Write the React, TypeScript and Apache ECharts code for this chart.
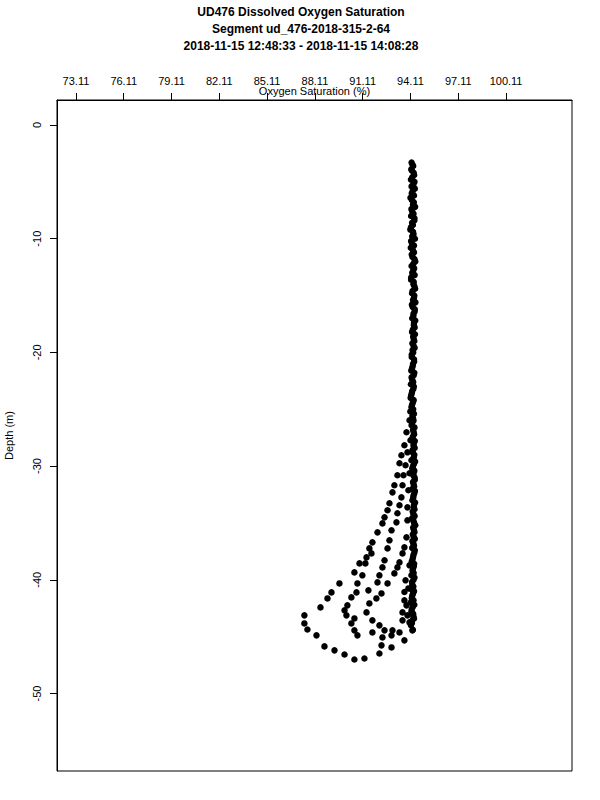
import React, { useEffect, useRef } from "react";
import * as echarts from "echarts";

const titleLines = [
  "UD476 Dissolved Oxygen Saturation",
  "Segment ud_476-2018-315-2-64",
  "2018-11-15 12:48:33 - 2018-11-15 14:08:28",
];

const xTicks = [73.11, 76.11, 79.11, 82.11, 85.11, 88.11, 91.11, 94.11, 97.11, 100.11];
const yTicks = [0, -10, -20, -30, -40, -50];

// main near-vertical column (first cast)
const columnDepth = [
  -3.3, -3.6, -4.0, -4.4, -4.8, -5.2, -5.6, -6.0, -6.4, -6.8,
  -7.2, -7.6, -8.0, -8.4, -8.8, -9.2, -9.6, -10.0, -10.4, -10.8,
  -11.2, -11.6, -12.0, -12.4, -12.8, -13.2, -13.6, -14.0, -14.4, -14.8,
  -15.2, -15.6, -16.0, -16.4, -16.8, -17.2, -17.6, -18.0, -18.4, -18.8,
  -19.2, -19.6, -20.0, -20.4, -20.8, -21.2, -21.6, -22.0, -22.4, -22.8,
  -23.2, -23.6, -24.0, -24.4, -24.8, -25.2, -25.6, -26.0, -26.4, -26.8,
  -27.2, -27.6, -28.0, -28.4, -28.8, -29.2, -29.6, -30.0, -30.4, -30.8,
  -31.2, -31.6, -32.0, -32.4, -32.8, -33.2, -33.6, -34.0, -34.4, -34.8,
  -35.2, -35.6, -36.0, -36.4, -36.8, -37.2, -37.6, -38.0, -38.4, -38.8,
  -39.2, -39.6, -40.0, -40.4, -40.8, -41.2, -41.6, -42.0, -42.4, -42.8,
  -43.2, -43.6, -44.0, -44.4,
];
const columnO2 = [
  94.18, 94.28, 94.20, 94.34, 94.14, 94.29, 94.38, 94.19, 94.11, 94.32,
  94.40, 94.22, 94.15, 94.35, 94.26, 94.10, 94.30, 94.39, 94.20, 94.13,
  94.33, 94.24, 94.41, 94.18, 94.28, 94.37, 94.15, 94.30, 94.40, 94.21,
  94.33, 94.42, 94.25, 94.37, 94.29, 94.41, 94.32, 94.26, 94.39, 94.31,
  94.23, 94.37, 94.28, 94.19, 94.34, 94.25, 94.16, 94.31, 94.22, 94.14,
  94.29, 94.19, 94.12, 94.26, 94.17, 94.10, 94.23, 94.30, 94.18, 94.27,
  94.34, 94.23, 94.31, 94.37, 94.26, 94.32, 94.40, 94.27, 94.35, 94.29,
  94.38, 94.31, 94.24, 94.35, 94.28, 94.40, 94.31, 94.25, 94.37, 94.29,
  94.41, 94.32, 94.26, 94.38, 94.29, 94.22, 94.35, 94.27, 94.19, 94.32,
  94.24, 94.17, 94.30, 94.22, 94.14, 94.27, 94.19, 94.12, 94.25, 94.17,
  94.29, 94.21, 94.14, 94.26,
];

// second cast overlapping the column
const column2Depth = [
  -3.5, -3.9, -4.2, -4.6, -5.0, -5.4, -5.8, -6.2, -6.6, -7.0,
  -7.4, -7.8, -8.2, -8.6, -9.0, -9.4, -9.8, -10.2, -10.6, -11.0,
  -11.4, -11.8, -12.2, -12.6, -13.0, -13.4, -13.8, -14.2, -14.6, -15.0,
  -15.4, -15.8, -16.2, -16.6, -17.0, -17.4, -17.8, -18.2, -18.6, -19.0,
  -19.4, -19.8, -20.2, -20.6, -21.0, -21.4, -21.8, -22.2, -22.6, -23.0,
  -23.4, -23.8, -24.2, -24.6, -25.0, -25.4, -25.8, -26.2, -26.6, -27.0,
  -27.4, -27.8, -28.2, -28.6, -29.0, -29.4, -29.8, -30.2, -30.6, -31.0,
  -31.4, -31.8, -32.2, -32.6, -33.0, -33.4, -33.8, -34.2, -34.6, -35.0,
  -35.4, -35.8, -36.2, -36.6, -37.0, -37.4, -37.8, -38.2, -38.6, -39.0,
  -39.4, -39.8, -40.2, -40.6, -41.0, -41.4, -41.8, -42.2, -42.6, -43.0,
  -43.4, -43.8,
];
const column2O2 = [
  94.24, 94.16, 94.31, 94.22, 94.36, 94.18, 94.25, 94.33, 94.20, 94.27,
  94.17, 94.30, 94.36, 94.21, 94.14, 94.27, 94.22, 94.15, 94.33, 94.26,
  94.19, 94.36, 94.29, 94.34, 94.22, 94.16, 94.31, 94.36, 94.24, 94.35,
  94.27, 94.20, 94.38, 94.30, 94.22, 94.33, 94.37, 94.21, 94.28, 94.35,
  94.30, 94.24, 94.19, 94.33, 94.27, 94.21, 94.35, 94.18, 94.28, 94.32,
  94.22, 94.15, 94.31, 94.21, 94.28, 94.33, 94.27, 94.21, 94.36, 94.31,
  94.26, 94.38, 94.30, 94.24, 94.35, 94.28, 94.33, 94.22, 94.30, 94.37,
  94.27, 94.34, 94.39, 94.30, 94.23, 94.33, 94.36, 94.29, 94.21, 94.34,
  94.28, 94.36, 94.31, 94.23, 94.33, 94.38, 94.30, 94.24, 94.34, 94.27,
  94.31, 94.36, 94.21, 94.29, 94.33, 94.22, 94.30, 94.35, 94.19, 94.28,
  94.33, 94.20,
];

// outer (leftmost) trace with the deep loop
const outerO2 = [
  94.05, 93.86, 93.73, 93.54, 93.42, 93.29, 93.10, 92.98, 92.79, 92.67,
  92.48, 92.35, 92.04, 91.72, 91.53, 91.35, 90.91, 90.59, 89.65, 89.15,
  88.90, 88.46, 87.45, 87.45, 87.64, 88.21, 88.71, 89.34, 89.97, 90.59, 91.22,
];
const outerDepth = [
  -25.97, -27.02, -28.17, -29.05, -29.75, -30.81, -31.69, -32.31, -33.27, -33.89,
  -34.51, -35.04, -35.83, -36.71, -37.24, -38.03, -38.56, -39.35, -40.32, -41.11,
  -41.64, -42.43, -43.13, -43.84, -44.37, -44.89, -45.86, -46.21, -46.57, -47.01, -46.92,
];

// second trace
const middleO2 = [
  94.11, 93.92, 93.80, 93.67, 93.61, 93.54, 93.42, 93.29, 93.23, 92.92,
  92.79, 92.67, 92.48, 92.35, 92.16, 92.04, 91.47, 91.97, 91.53, 91.35,
  91.72, 92.16, 91.72,
];
const middleDepth = [
  -27.73, -28.79, -29.93, -30.81, -31.69, -32.75, -33.45, -34.15, -34.95, -35.65,
  -36.53, -37.24, -38.29, -38.91, -39.61, -40.23, -40.93, -41.64, -42.08, -42.87,
  -43.57, -44.01, -44.63,
];

// inner-left trace
const innerO2 = [
  91.66, 91.28, 91.09, 90.78, 90.72, 90.40, 90.15, 89.97, 90.09, 90.59,
  90.40, 90.59, 90.78,
];
const innerDepth = [
  -37.68, -38.56, -39.61, -40.32, -41.11, -41.55, -42.25, -42.69, -43.13, -43.40,
  -43.84, -44.45, -44.89,
];

// third trace
const thirdO2 = [
  94.17, 94.05, 93.98, 93.92, 93.92, 93.86, 93.73, 93.61, 93.42, 93.29,
  93.10, 92.67, 92.29, 92.48, 92.98, 93.42, 92.92, 92.35, 92.92, 92.29, 92.16,
];
const thirdDepth = [
  -29.49, -30.63, -32.13, -33.63, -34.77, -36.27, -37.15, -37.68, -38.47, -38.91,
  -39.44, -40.32, -41.20, -44.45, -44.45, -44.63, -44.89, -45.07, -45.95, -45.77, -46.48,
];

// dense cluster near the bottom of the column
const clusterO2 = [94.05, 93.80, 93.98, 93.73, 93.73, 93.86, 93.61, 93.92, 93.61, 94.05, 94.23, 93.73];
const clusterDepth = [-38.73, -40.05, -40.76, -41.08, -41.81, -42.25, -42.87, -43.13, -43.57, -43.75, -44.45, -45.33];

const zip = (a: number[], b: number[]) => a.map((v, i) => [v, b[i]]);

export default function App() {
  const ref = useRef<HTMLDivElement>(null);
  useEffect(() => {
    if (!ref.current) return;
    const chart = echarts.init(ref.current, null, { renderer: "svg" });
    const font = "Liberation Sans";
    const data = [
      ...zip(columnO2, columnDepth),
      ...zip(column2O2, column2Depth),
      ...zip(outerO2, outerDepth),
      ...zip(middleO2, middleDepth),
      ...zip(innerO2, innerDepth),
      ...zip(thirdO2, thirdDepth),
      ...zip(clusterO2, clusterDepth),
    ];
    chart.setOption({
      animation: false,
      backgroundColor: "#ffffff",
      textStyle: { fontFamily: font, color: "#000" },
      graphic: titleLines.map((t, i) => ({
        type: "text",
        x: 301,
        y: 12 + i * 17,
        style: {
          text: t,
          font: `bold 12px "${font}"`,
          fill: "#000",
          textAlign: "center",
          textVerticalAlign: "middle",
        },
      })),
      grid: {
        left: 57,
        right: 28,
        top: 100,
        bottom: 29,
        show: true,
        borderColor: "#000",
        borderWidth: 1,
        backgroundColor: "transparent",
        containLabel: false,
        outerBoundsMode: "none",
      },
      xAxis: {
        type: "value",
        position: "top",
        min: 71.92,
        max: 104.25,
        name: "Oxygen Saturation (%)",
        nameLocation: "middle",
        nameGap: 9,
        nameMoveOverlap: false,
        nameTextStyle: { fontSize: 11, color: "#000", fontFamily: font, verticalAlign: "middle" },
        axisLine: { show: true, onZero: false, lineStyle: { color: "#000", width: 1 } },
        axisTick: { show: true, length: 7, customValues: xTicks, lineStyle: { color: "#000" } },
        axisLabel: {
          customValues: xTicks,
          formatter: (v: number) => v.toFixed(2),
          fontSize: 11,
          color: "#000",
          fontFamily: font,
          margin: 14,
        },
        splitLine: { show: false },
      },
      yAxis: {
        type: "value",
        min: -56.82,
        max: 2.2,
        name: "Depth (m)",
        nameLocation: "middle",
        nameGap: 48,
        nameRotate: 90,
        nameMoveOverlap: false,
        nameTextStyle: { fontSize: 11, color: "#000", fontFamily: font, verticalAlign: "middle" },
        axisLine: { show: true, onZero: false, lineStyle: { color: "#000", width: 1 } },
        axisTick: { show: true, length: 7, customValues: yTicks, lineStyle: { color: "#000" } },
        axisLabel: {
          customValues: yTicks,
          rotate: 90,
          fontSize: 11,
          color: "#000",
          fontFamily: font,
          margin: 15,
        },
        splitLine: { show: false },
      },
      series: [
        {
          type: "scatter",
          data,
          symbol: "circle",
          symbolSize: 6.5,
          itemStyle: { color: "#000", opacity: 1 },
          silent: true,
        },
      ],
    });
    return () => chart.dispose();
  }, []);
  return <div ref={ref} style={{ position: "fixed", left: 0, top: 0, width: 600, height: 800 }} />;
}
